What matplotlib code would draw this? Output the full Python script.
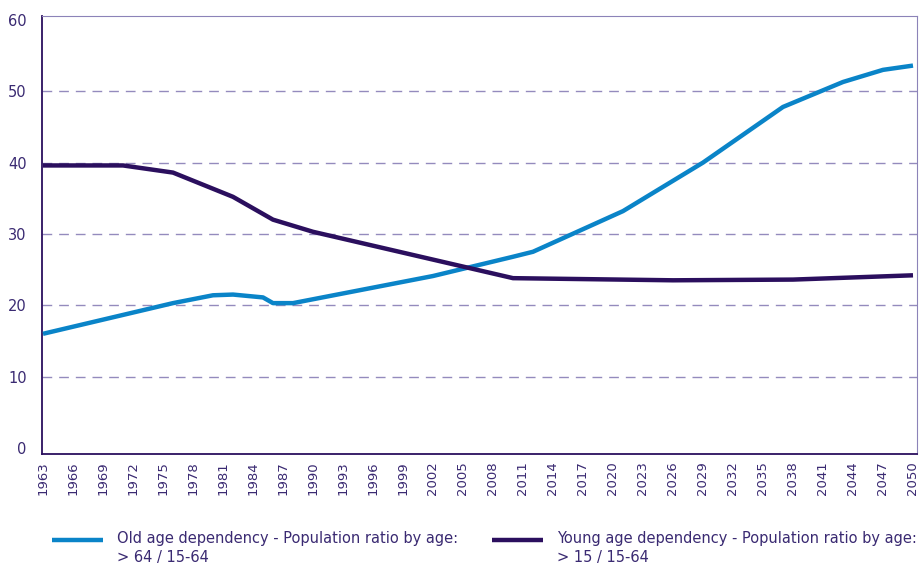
import matplotlib.pyplot as plt
import matplotlib.lines as mlines

# data
old_years = [1963, 1976, 1980, 1982, 1985, 1986, 1988, 2002, 2010, 2012, 2021, 2029, 2037, 2043, 2047, 2050]
old_vals = [16.0, 20.3, 21.4, 21.5, 21.1, 20.3, 20.3, 24.1, 26.8, 27.5, 33.2, 40.0, 47.8, 51.3, 53.0, 53.6]

young_years = [1963, 1971, 1976, 1982, 1986, 1990, 2010, 2026, 2038, 2050]
young_vals = [39.6, 39.6, 38.6, 35.2, 32.0, 30.3, 23.8, 23.5, 23.6, 24.2]

tick_years = list(range(1963, 2051, 3))
y_ticks = [0, 10, 20, 30, 40, 50, 60]
grid_levels = [10, 20, 30, 40, 50]

labels = ['Old age dependency - Population ratio by age:\n> 64 / 15-64',
          'Young age dependency - Population ratio by age:\n> 15 / 15-64']

blue = '#0a84c8'
dark = '#2b0f5e'
text_col = '#3a2a72'

fig = plt.figure(figsize=(9.2, 5.66), dpi=100)
ax = fig.add_axes([42 / 920, 1 - 454 / 566, 875 / 920, 438 / 566])

for g in grid_levels:
    ax.axhline(g, color='#948bbd', lw=1.0, dashes=(7, 5), zorder=1)

ax.plot(old_years, old_vals, color=blue, lw=3.2, solid_capstyle='butt', zorder=3)
ax.plot(young_years, young_vals, color=dark, lw=3.2, solid_capstyle='butt', zorder=3)

ax.set_xlim(1962.9, 2050.4)
ax.set_ylim(-0.85, 60.55)
ax.set_yticks(y_ticks)
ax.set_xticks(tick_years)
ax.set_xticklabels([str(y) for y in tick_years], rotation=90)
ax.tick_params(axis='y', length=0, pad=11, labelsize=10.5, labelcolor=text_col)
ax.tick_params(axis='x', length=0, pad=5, labelsize=9.5, labelcolor=text_col)

ax.spines['left'].set_color(dark)
ax.spines['bottom'].set_color(dark)
ax.spines['left'].set_linewidth(1.3)
ax.spines['bottom'].set_linewidth(1.3)
ax.spines['top'].set_color('#8c83b8')
ax.spines['right'].set_color('#8c83b8')

# legend drawn below the axes, handle beside the first line of text
for (col, lab, x0) in zip([blue, dark], labels, [52, 492]):
    fig.add_artist(mlines.Line2D([x0 / 920, (x0 + 51) / 920], [1 - 540 / 566] * 2,
                                 color=col, lw=3.2, solid_capstyle='butt'))
    fig.text((x0 + 65) / 920, 1 - 531 / 566, lab, ha='left', va='top',
             fontsize=10.5, color=text_col, linespacing=1.3)

plt.savefig('out.png')
